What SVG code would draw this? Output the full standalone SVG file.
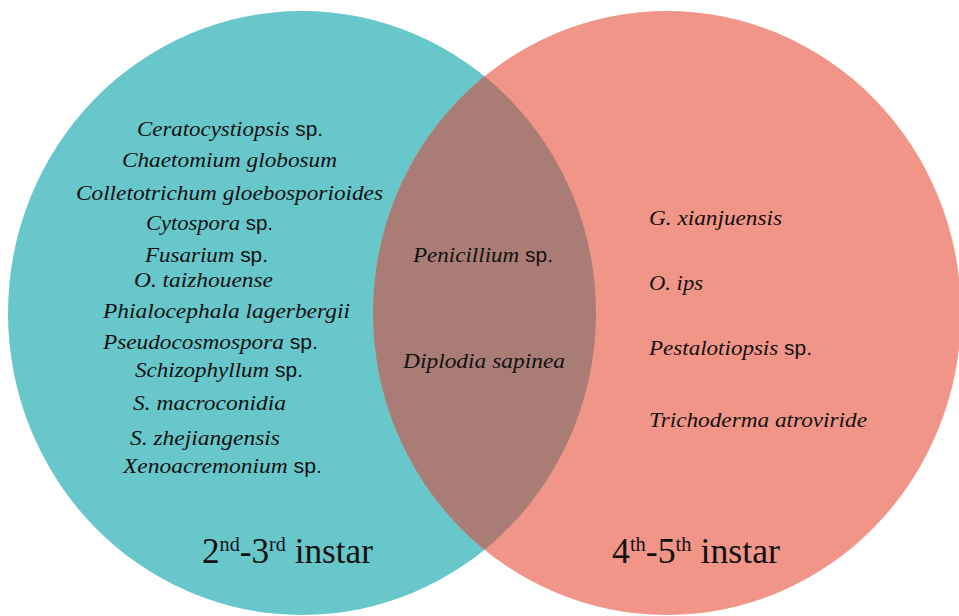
<svg xmlns="http://www.w3.org/2000/svg" width="959" height="616" viewBox="0 0 959 616">
<style>
.sp{font-family:"Liberation Serif","Times New Roman",serif;font-style:italic;font-size:22px;fill:#111}
.up{font-family:"Liberation Sans",Arial,sans-serif;font-style:normal;font-size:20px}
.lab{font-family:"Liberation Serif","Times New Roman",serif;font-size:35px;fill:#111}
.sup{font-size:20px}
</style>
<defs>
<clipPath id="leftClip"><ellipse cx="302" cy="313" rx="294" ry="302"/></clipPath>
</defs>
<rect width="959" height="616" fill="#ffffff"/>
<g id="set-left"><ellipse cx="302" cy="313" rx="294" ry="302" fill="#67C7CB"/></g>
<g id="set-right"><ellipse cx="667" cy="313" rx="294" ry="302" fill="#F19589"/></g>
<g id="overlap"><ellipse cx="667" cy="313" rx="294" ry="302" fill="#A97D76" clip-path="url(#leftClip)"/></g>
<g id="left-texts">
<text class="sp" x="137" y="136" textLength="186" lengthAdjust="spacingAndGlyphs">Ceratocystiopsis<tspan class="up"> sp.</tspan></text>
<text class="sp" x="122" y="167" textLength="215" lengthAdjust="spacingAndGlyphs">Chaetomium globosum</text>
<text class="sp" x="76" y="200" textLength="307" lengthAdjust="spacingAndGlyphs">Colletotrichum gloebosporioides</text>
<text class="sp" x="146" y="230" textLength="127" lengthAdjust="spacingAndGlyphs">Cytospora<tspan class="up"> sp.</tspan></text>
<text class="sp" x="145" y="262" textLength="123" lengthAdjust="spacingAndGlyphs">Fusarium<tspan class="up"> sp.</tspan></text>
<text class="sp" x="134" y="287" textLength="139" lengthAdjust="spacingAndGlyphs">O. taizhouense</text>
<text class="sp" x="103" y="318" textLength="247" lengthAdjust="spacingAndGlyphs">Phialocephala lagerbergii</text>
<text class="sp" x="103" y="349" textLength="215" lengthAdjust="spacingAndGlyphs">Pseudocosmospora<tspan class="up"> sp.</tspan></text>
<text class="sp" x="135" y="377" textLength="168" lengthAdjust="spacingAndGlyphs">Schizophyllum<tspan class="up"> sp.</tspan></text>
<text class="sp" x="133" y="410" textLength="153" lengthAdjust="spacingAndGlyphs">S. macroconidia</text>
<text class="sp" x="130" y="445" textLength="150" lengthAdjust="spacingAndGlyphs">S. zhejiangensis</text>
<text class="sp" x="123" y="473" textLength="199" lengthAdjust="spacingAndGlyphs">Xenoacremonium<tspan class="up"> sp.</tspan></text>
</g>
<g id="overlap-texts">
<text class="sp" x="413" y="262" textLength="140" lengthAdjust="spacingAndGlyphs">Penicillium<tspan class="up"> sp.</tspan></text>
<text class="sp" x="403" y="368" textLength="162" lengthAdjust="spacingAndGlyphs">Diplodia sapinea</text>
</g>
<g id="right-texts">
<text class="sp" x="649" y="225" textLength="133" lengthAdjust="spacingAndGlyphs">G. xianjuensis</text>
<text class="sp" x="649" y="290" textLength="54" lengthAdjust="spacingAndGlyphs">O. ips</text>
<text class="sp" x="649" y="355" textLength="163" lengthAdjust="spacingAndGlyphs">Pestalotiopsis<tspan class="up"> sp.</tspan></text>
<text class="sp" x="649" y="427" textLength="218" lengthAdjust="spacingAndGlyphs">Trichoderma atroviride</text>
</g>
<g id="labels">
<text class="lab" x="202" y="563" textLength="171" lengthAdjust="spacingAndGlyphs">2<tspan class="sup" dy="-12">nd</tspan><tspan dy="12">-3</tspan><tspan class="sup" dy="-12">rd</tspan><tspan dy="12"> instar</tspan></text>
<text class="lab" x="612" y="563" textLength="168" lengthAdjust="spacingAndGlyphs">4<tspan class="sup" dy="-12">th</tspan><tspan dy="12">-5</tspan><tspan class="sup" dy="-12">th</tspan><tspan dy="12"> instar</tspan></text>
</g>
</svg>
